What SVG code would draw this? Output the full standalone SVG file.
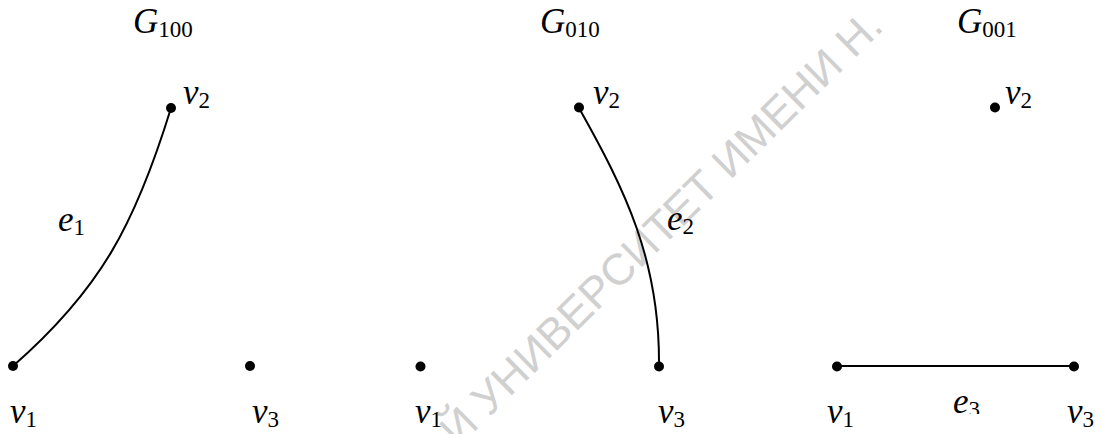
<svg xmlns="http://www.w3.org/2000/svg" width="1103" height="434" viewBox="0 0 1103 434">
<defs>
<style>
.wm{font-family:"Liberation Sans","DejaVu Sans",sans-serif;font-size:44px;fill:#d0d0d0}
.lbl{font-family:"Liberation Serif","Times New Roman",serif;font-size:35px;fill:#000;font-style:italic}
.sub{font-style:normal;font-size:23px}
.edge{fill:none;stroke:#000;stroke-width:2}
.dot{fill:#000}
</style>
<clipPath id="clipE3"><rect x="900" y="380" width="120" height="34"/></clipPath>
</defs>
<rect width="1103" height="434" fill="#fff"/>
<text class="wm" transform="translate(458,448) rotate(-44.5)">Й УНИВЕРСИТЕТ ИМЕНИ Н.</text>

<g id="connectors">
<path id="e1" class="edge" d="M13,366 C100,290 135,225 171,108"/>
<path id="e2" class="edge" d="M579,108 C625,190 660,260 659,366"/>
<path id="e3" class="edge" d="M837,366 L1074,366"/>
</g>

<g id="G100-title"><text class="lbl" x="133" y="33">G<tspan class="sub" dy="4">100</tspan></text></g>
<g id="G100-v1"><circle class="dot" cx="13" cy="366" r="5"/><text class="lbl" x="10" y="423">v<tspan class="sub" dy="4">1</tspan></text></g>
<g id="G100-v2"><circle class="dot" cx="171" cy="108" r="5"/><text class="lbl" x="183" y="104">v<tspan class="sub" dy="4">2</tspan></text></g>
<g id="G100-v3"><circle class="dot" cx="250" cy="366" r="5"/><text class="lbl" x="252" y="423">v<tspan class="sub" dy="4">3</tspan></text></g>
<g id="G100-e1"><text class="lbl" x="58" y="231">e<tspan class="sub" dy="4">1</tspan></text></g>

<g id="G010-title"><text class="lbl" x="540" y="33">G<tspan class="sub" dy="4">010</tspan></text></g>
<g id="G010-v1"><circle class="dot" cx="420.5" cy="366.5" r="5"/><text class="lbl" x="415" y="423">v<tspan class="sub" dy="4">1</tspan></text></g>
<g id="G010-v2"><circle class="dot" cx="579" cy="107.5" r="5"/><text class="lbl" x="593" y="104">v<tspan class="sub" dy="4">2</tspan></text></g>
<g id="G010-v3"><circle class="dot" cx="659" cy="366.5" r="5"/><text class="lbl" x="658" y="423">v<tspan class="sub" dy="4">3</tspan></text></g>
<g id="G010-e2"><text class="lbl" x="667" y="230">e<tspan class="sub" dy="4">2</tspan></text></g>

<g id="G001-title"><text class="lbl" x="957" y="33">G<tspan class="sub" dy="4">001</tspan></text></g>
<g id="G001-v1"><circle class="dot" cx="837" cy="366.5" r="5"/><text class="lbl" x="827" y="423">v<tspan class="sub" dy="4">1</tspan></text></g>
<g id="G001-v2"><circle class="dot" cx="995" cy="107.5" r="5"/><text class="lbl" x="1005" y="104">v<tspan class="sub" dy="4">2</tspan></text></g>
<g id="G001-v3"><circle class="dot" cx="1074" cy="366.5" r="5"/><text class="lbl" x="1067" y="423">v<tspan class="sub" dy="4">3</tspan></text></g>
<g id="G001-e3" clip-path="url(#clipE3)"><text class="lbl" x="953" y="413">e<tspan class="sub" dy="4">3</tspan></text></g>
</svg>
